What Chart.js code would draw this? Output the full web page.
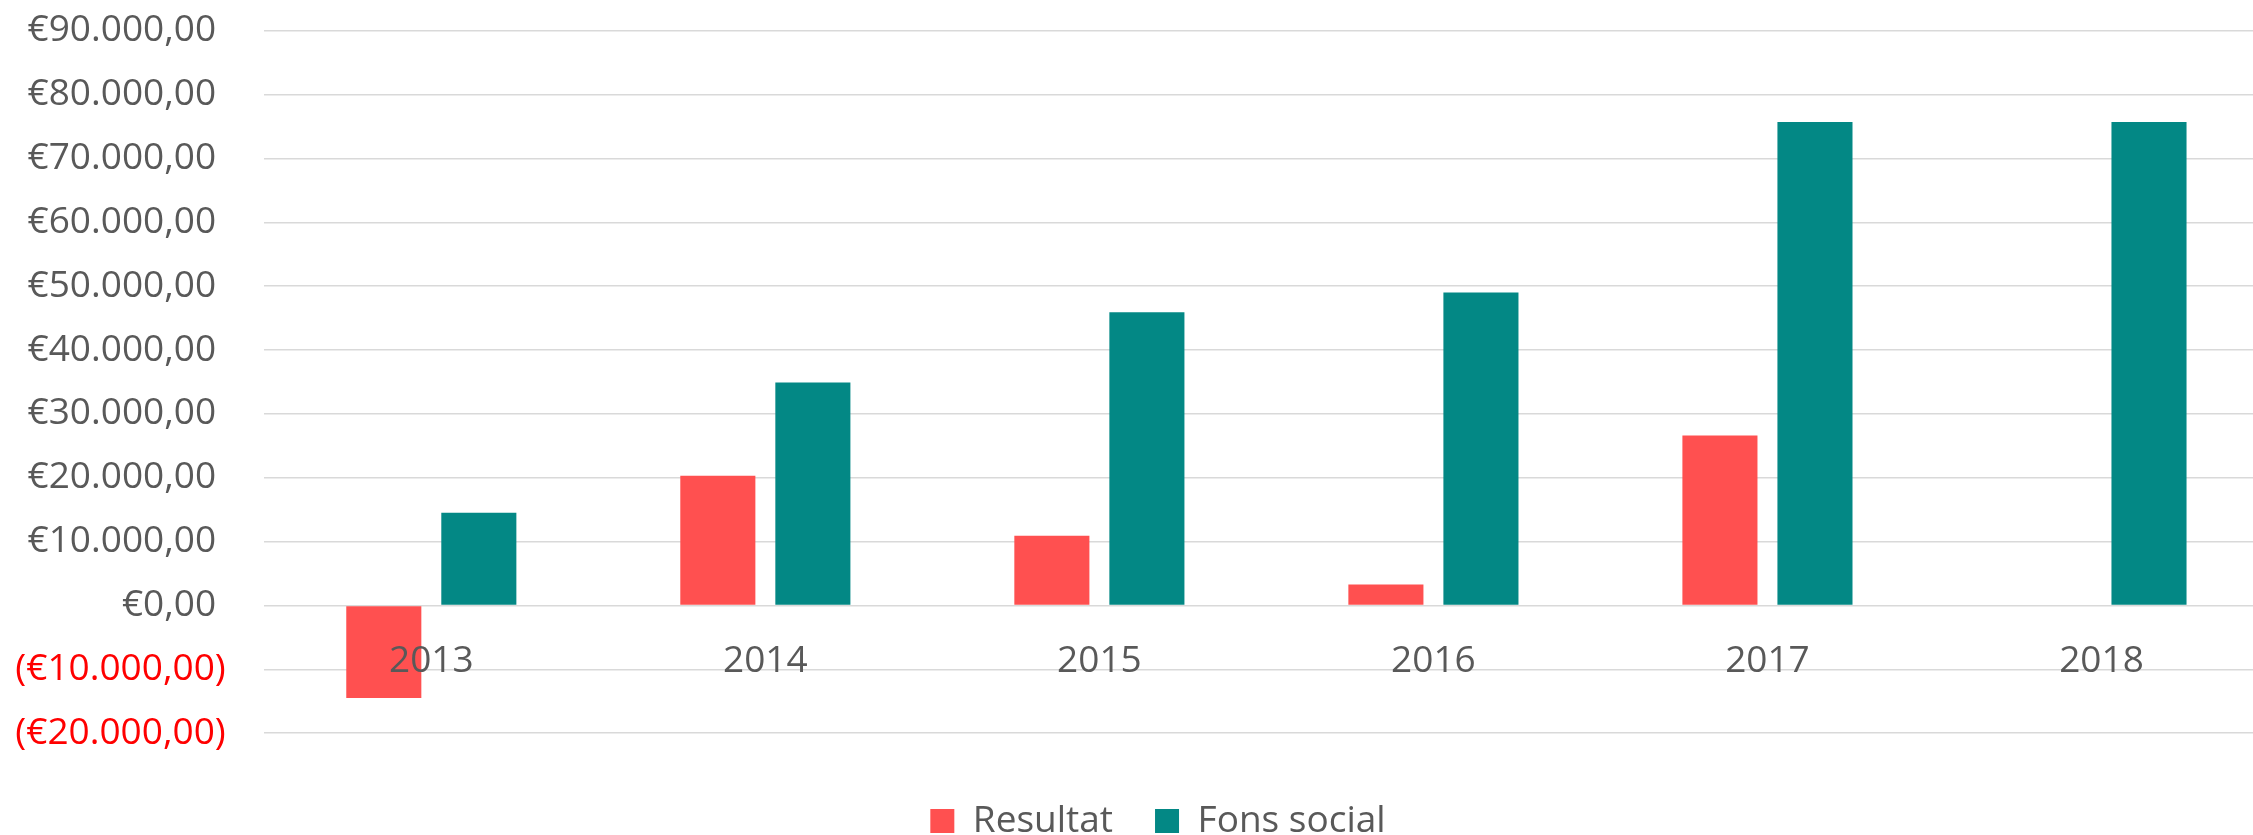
<!DOCTYPE html>
<html><head><meta charset="utf-8">
<script src="https://cdn.jsdelivr.net/npm/chart.js@4/dist/chart.umd.min.js"></script>
<style>
html,body{margin:0;padding:0;overflow:hidden;background:#fff;width:2253px;height:835px;}
#wrap{position:relative;width:2316px;height:835px;}
</style></head>
<body><div id="wrap"><canvas id="c"></canvas></div>
<script>
const years = ['2013', '2014', '2015', '2016', '2017', '2018'];
const resultat = [-14500, 20300, 10900, 3300, 26600, null];
const fonsSocial = [14500, 34900, 45900, 49000, 75700, 75700];
const seriesNames = ['Resultat', 'Fons social'];
const yMin = -20000, yMax = 90000, yStep = 10000;

function eur(v) {
  const s = '€' + Math.abs(v).toFixed(2).replace('.', ',').replace(/\B(?=(\d{3})+(?!\d))/g, '.');
  return v < 0 ? '(' + s + ')' : s + ' ';
}

const legendPlace = {
  id: 'legendPlace',
  afterLayout(chart) {
    const lg = chart.legend;
    const h = lg.bottom - lg.top;
    lg.top = 760.5; lg.bottom = lg.top + h;
    lg.left = 0; lg.right = 2316;
  }
};

Chart.defaults.font.family = "'Open Sans', sans-serif";
Chart.defaults.color = '#595959';

new Chart(document.getElementById('c'), {
  type: 'bar',
  data: {
    labels: years,
    datasets: [
      { label: seriesNames[0], data: resultat, backgroundColor: '#FF5050', borderWidth: 0,
        categoryPercentage: 0.569, barPercentage: 0.79 },
      { label: seriesNames[1], data: fonsSocial, backgroundColor: '#038885', borderWidth: 0,
        categoryPercentage: 0.569, barPercentage: 0.79 }
    ]
  },
  options: {
    responsive: true,
    maintainAspectRatio: false,
    animation: false,
    devicePixelRatio: 1,
    layout: { padding: { left: 0, right: 47.5, top: 30.7, bottom: 12.8 } },
    plugins: {
      tooltip: { enabled: false },
      legend: {
        position: 'bottom',
        labels: { font: { size: 37 }, color: '#595959', boxWidth: 24, boxHeight: 24, padding: 42 }
      }
    },
    scales: {
      x: {
        position: { y: 0 },
        grid: { display: false, drawTicks: false },
        border: { display: false },
        ticks: { z: 1, font: { size: 37 }, color: '#595959', padding: 34, maxRotation: 0 }
      },
      y: {
        min: yMin, max: yMax,
        afterFit(scale) { scale.width = 264.3; scale.paddingTop = 0; scale.paddingBottom = 0; },
        grid: { color: '#D9D9D9', lineWidth: 1.5, drawTicks: false },
        border: { display: false },
        ticks: {
          stepSize: yStep,
          padding: 38.6,
          font: { size: 37 },
          color: (ctx) => (ctx.tick && ctx.tick.value < 0 ? '#FF0000' : '#595959'),
          callback: (v) => eur(v)
        }
      }
    }
  },
  plugins: [legendPlace]
});
</script>
</body></html>
